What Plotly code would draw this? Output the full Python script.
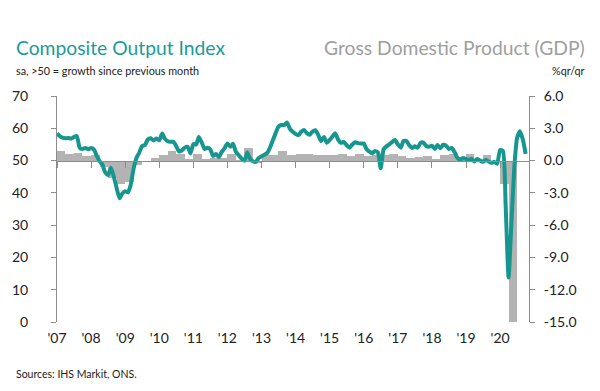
import pandas as pd
import plotly.graph_objects as go

# ---------------- data ----------------
pmi_start = "2007-01-01"
pmi_values = [
    58.4, 57.6, 57.1, 56.9, 57.0, 56.8, 57.3, 57.6, 54.0, 53.6, 53.9, 53.5,  # 2007
    53.9, 53.4, 51.5, 49.8, 48.8, 46.3, 45.5, 47.8, 45.0, 41.5, 38.3, 39.8,  # 2008
    40.5, 40.2, 42.5, 47.5, 50.8, 52.5, 54.5, 54.8, 56.6, 56.9, 56.2, 56.8,  # 2009
    56.3, 58.4, 56.8, 56.0, 55.8, 55.8, 54.5, 52.8, 53.2, 54.0, 54.3, 52.2,  # 2010
    55.1, 55.0, 57.3, 55.6, 53.6, 54.0, 53.5, 51.4, 52.0, 51.1, 52.7, 53.8,  # 2011
    55.3, 54.3, 55.2, 52.7, 51.7, 50.6, 49.9, 52.5, 50.5, 49.8, 49.6, 50.8,  # 2012
    51.3, 51.8, 52.3, 54.0, 56.2, 58.5, 60.5, 61.0, 61.0, 61.8, 59.8, 58.9,  # 2013
    58.2, 57.9, 58.9, 59.5, 58.5, 58.0, 59.0, 59.4, 57.9, 56.0, 57.3, 55.5,  # 2014
    56.4, 57.5, 58.5, 56.5, 55.5, 55.8, 54.8, 54.0, 55.0, 55.7, 55.4, 55.3,  # 2015
    55.3, 53.5, 52.8, 52.3, 53.0, 52.5, 47.6, 53.5, 54.4, 55.0, 55.8, 56.4,  # 2016
    55.0, 54.0, 56.0, 56.1, 54.8, 53.9, 54.4, 54.0, 55.5, 55.6, 54.5, 54.3,  # 2017
    54.6, 53.6, 54.8, 53.8, 54.9, 54.6, 53.6, 53.9, 52.6, 50.8, 50.3, 50.8,  # 2018
    50.5, 50.1, 50.6, 49.7, 50.5, 50.0, 49.6, 50.2, 49.7, 49.3, 49.6, 49.0,  # 2019
    53.3, 53.0, 36.0, 13.8, 30.0, 47.7, 57.0, 59.1, 56.5, 52.1,              # 2020
]

gdp_start = "2007-01-01"
gdp_values = [
    0.9, 0.6, 0.7, 0.4,     # 2007
    0.5, -0.6, -1.6, -2.2,  # 2008
    -2.0, -0.4, 0.0, 0.2,   # 2009
    0.5, 0.9, 0.6, 0.1,     # 2010
    0.6, 0.1, 0.2, 0.2,     # 2011
    0.6, -0.1, 1.2, -0.2,   # 2012
    0.5, 0.5, 0.9, 0.5,     # 2013
    0.6, 0.6, 0.5, 0.5,     # 2014
    0.5, 0.6, 0.4, 0.6,     # 2015
    0.4, 0.5, 0.5, 0.6,     # 2016
    0.4, 0.2, 0.3, 0.4,     # 2017
    0.1, 0.5, 0.6, 0.3,     # 2018
    0.6, -0.1, 0.5, 0.0,    # 2019
    -2.2, -19.8,            # 2020
]

year_ticks = [f"{y}-01-01" for y in range(2007, 2021)]
year_labels = ["'07", "'08", "'09", "'10", "'11", "'12", "'13", "'14",
               "'15", "'16", "'17", "'18", "'19", "'20"]
left_ticks = [0, 10, 20, 30, 40, 50, 60, 70]
right_ticks = [-15, -12, -9, -6, -3, 0, 3, 6]
right_labels = ["-15.0", "-12.0", "-9.0", "-6.0", "-3.0", "0.0", "3.0", "6.0"]

x_range = ["2007-01-01", "2020-11-06"]

# ---------------- derived ----------------
months = pd.date_range(pmi_start, periods=len(pmi_values), freq="MS")
q_edges = pd.date_range(gdp_start, periods=len(gdp_values) + 1, freq="QS")
q_mid = q_edges[:-1] + (q_edges[1:] - q_edges[:-1]) / 2
q_width = [(b - a).total_seconds() * 1000 for a, b in zip(q_edges[:-1], q_edges[1:])]

TEAL = "#17968f"
GREY_BAR = "#b3b3b3"
AX = "#8c8c8c"
FONT = "Lato"

W, H = 600, 391
L, R, T, B = 57, 71, 96, 69
PW, PH = W - L - R, H - T - B


def px(x):
    return (x - L) / PW


def py(y):
    return (H - B - y) / PH


fig = go.Figure()
fig.add_trace(go.Bar(
    x=q_mid, y=gdp_values, width=q_width,
    marker=dict(color=GREY_BAR, line=dict(width=0)),
    xaxis="x", yaxis="y", hoverinfo="skip", showlegend=False,
))
fig.add_trace(go.Scatter(
    x=months, y=pmi_values, mode="lines",
    line=dict(color=TEAL, width=4, shape="spline", smoothing=0.5),
    xaxis="x2", yaxis="y2", showlegend=False,
))

fig.update_layout(
    width=W, height=H,
    margin=dict(l=L, r=R, t=T, b=B, autoexpand=False),
    paper_bgcolor="white", plot_bgcolor="white",
    font=dict(family=FONT, color="#222222"),
    bargap=0,
    xaxis=dict(
        range=x_range, type="date",
        tickvals=year_ticks, ticktext=year_labels,
        showline=False, ticks="", showgrid=False, zeroline=False,
        tickfont=dict(size=14, color="#222222"),
        ticklabelstandoff=6,
    ),
    xaxis2=dict(
        range=x_range, type="date", overlaying="x",
        anchor="free", position=50 / 70,
        tickvals=year_ticks, showticklabels=False,
        showline=True, linecolor=AX, linewidth=1,
        ticks="outside", ticklen=6, tickcolor=AX, tickwidth=1,
        showgrid=False, zeroline=False,
    ),
    yaxis=dict(
        side="right", range=[-15, 6],
        tickvals=right_ticks, ticktext=right_labels,
        showline=True, linecolor=AX, linewidth=1,
        ticks="outside", ticklen=5, tickcolor=AX,
        showgrid=False, zeroline=False,
        tickfont=dict(size=14, color="#222222"),
        ticklabelstandoff=6,
    ),
    yaxis2=dict(
        side="left", overlaying="y", anchor="x2", range=[0, 70],
        tickvals=left_ticks,
        showline=True, linecolor=AX, linewidth=1,
        ticks="outside", ticklen=5, tickcolor=AX,
        showgrid=False, zeroline=False,
        tickfont=dict(size=14, color="#222222"),
        ticklabelstandoff=20,
    ),
)

ann = [
    dict(text="Composite Output Index", x=px(14), y=py(47), xanchor="left",
         font=dict(size=19.3, color="#1a9c97")),
    dict(text="sa, >50 = growth since previous month", x=px(14), y=py(70),
         xanchor="left", font=dict(size=10.8, color="#222222")),
    dict(text="Gross Domestic Product (GDP)", x=px(587), y=py(47), xanchor="right",
         font=dict(size=19.3, color="#9e9e9e")),
    dict(text="%qr/qr", x=px(587), y=py(70), xanchor="right",
         font=dict(size=10.8, color="#222222")),
    dict(text="Sources: IHS Markit, ONS.", x=px(14), y=py(374), xanchor="left",
         font=dict(size=10.5, color="#222222")),
]
for a in ann:
    fig.add_annotation(xref="paper", yref="paper", yanchor="middle",
                       showarrow=False, **a)

fig.write_html(
    "out.html",
    config={"displayModeBar": False},
    post_script="document.body.style.margin='0';document.body.style.padding='0';",
)
